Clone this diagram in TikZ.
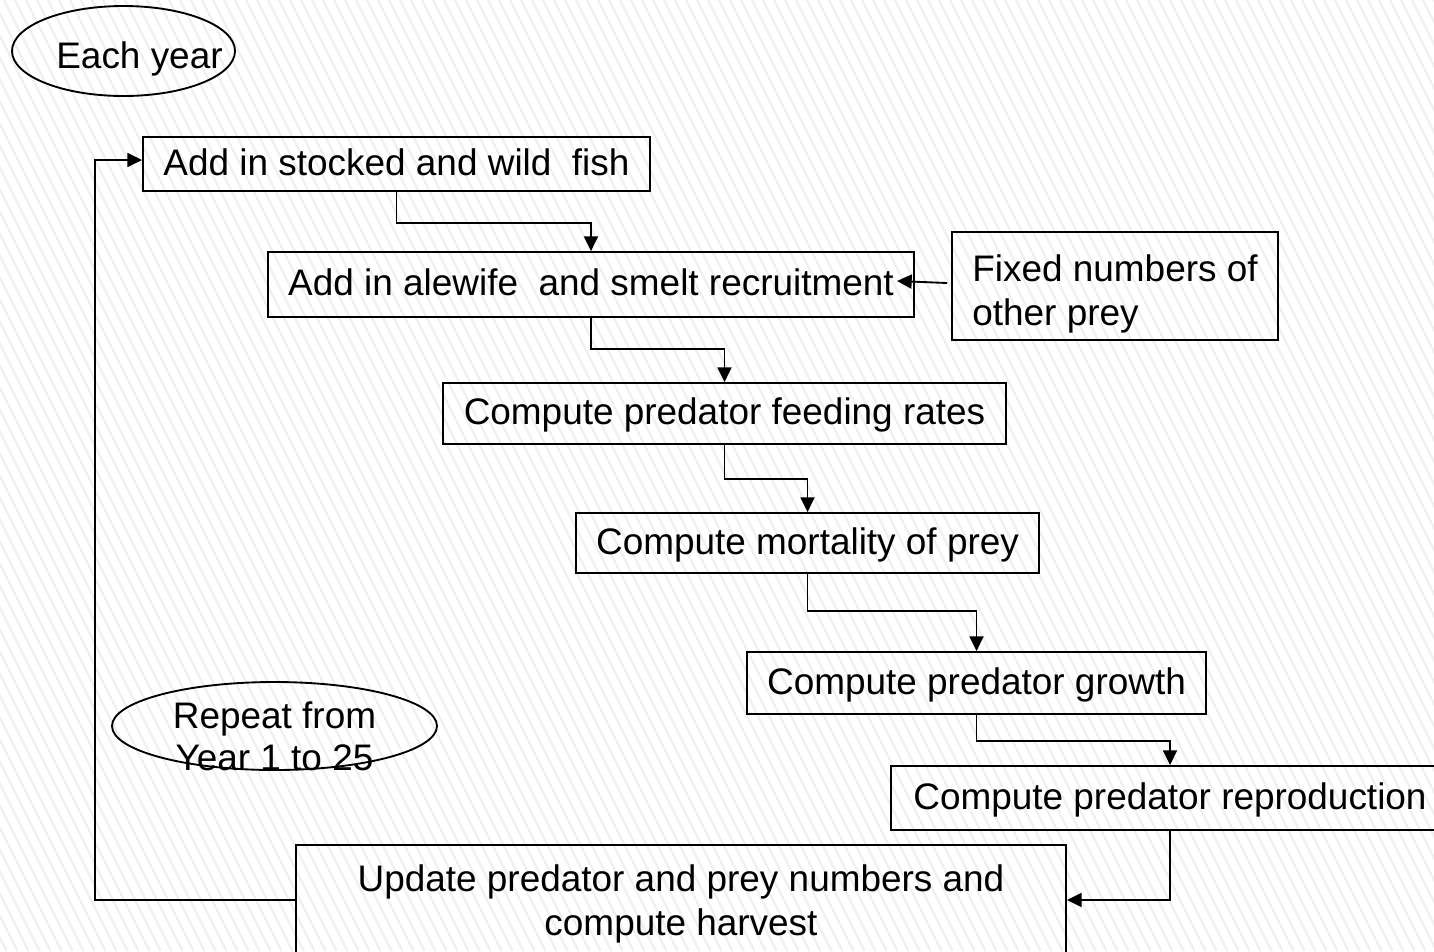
\documentclass[tikz,border=0pt]{standalone}
\usepackage{fontspec}
\setmainfont{Liberation Sans}
\usetikzlibrary{arrows.meta,shapes.geometric}

\tikzset{
  boxstyle/.style={draw, line width=1.4pt, inner sep=0pt, align=center,
    font=\fontsize{27.7}{32.8}\selectfont},
  oneline/.style={boxstyle, text height=24pt, text depth=7.5pt},
  ovalstyle/.style={draw, ellipse, line width=1.4pt, inner sep=0pt},
  labelstyle/.style={inner sep=0pt, align=center,
    font=\fontsize{27.7}{31.5}\selectfont},
  conn/.style={line width=1.4pt, -{Triangle[length=11pt,width=10.5pt]}},
  hatch/.style={line width=1.8pt, black!6}
}

\begin{document}
\begin{tikzpicture}[x=0.75pt, y=-0.75pt]
  % page and faint diagonal background stripes
  \fill[white] (0,0) rectangle (1434,951);
  \useasboundingbox (0,0) rectangle (1434,951);
  \begin{scope}
    \clip (0,0) rectangle (1434,951);
    \foreach \c in {-480,-469,...,1440}
      \draw[hatch] (\c,0) -- ++(475.5,951);
  \end{scope}

  \begin{scope}
    \clip (0,0) rectangle (1434,951);

    % ovals with their captions
    \node[ovalstyle, minimum width=167.25pt, minimum height=67.5pt] (year)
      at (123.5,51) {};
    \node[labelstyle] (yeartext) at (139.5,58.5) {Each year};
    \node[ovalstyle, minimum width=243.75pt, minimum height=66pt] (repeat)
      at (274.5,726) {};
    \node[labelstyle] (repeattext) at (274.5,736) {Repeat from\\Year 1 to 25};

    % steps of the yearly cycle
    \node[oneline, minimum width=380.25pt, minimum height=40.5pt] (stock)
      at (396.5,164) {Add in stocked and wild\ \ fish};
    \node[oneline, minimum width=484.5pt, minimum height=48.75pt] (recruit)
      at (591,284.5) {Add in alewife\ \ and smelt recruitment};
    \node[boxstyle, align=left, text height=66pt, text depth=7.5pt,
      minimum width=244.5pt, minimum height=81pt] (fixed)
      at (1115,286) {Fixed numbers of\\other prey};
    \node[oneline, minimum width=422.25pt, minimum height=45.75pt] (feed)
      at (724.5,413.5) {Compute predator feeding rates};
    \node[oneline, minimum width=347.25pt, minimum height=45pt] (mort)
      at (807.5,543) {Compute mortality of prey};
    \node[oneline, minimum width=344.25pt, minimum height=46.5pt] (growth)
      at (976.5,683) {Compute predator growth};
    \node[oneline, minimum width=418.5pt, minimum height=48pt] (repro)
      at (1170,798) {Compute predator reproduction};
    \node[boxstyle, minimum width=577.5pt, minimum height=88.5pt] (update)
      at (681,904) {Update predator and prey numbers and\\compute harvest};

    % connectors between the steps
    \draw[conn] (stock.south) -- ++(0,31) -| (recruit.north);
    \draw[conn] (recruit.south) -- ++(0,31) -| (feed.north);
    \draw[conn] (feed.south) -- ++(0,34) -| (mort.north);
    \draw[conn] (mort.south) -- ++(0,37) -| (growth.north);
    \draw[conn] (growth.south) -- ++(0,26) -| (repro.north);
    \draw[conn] (repro.south) |- ([yshift=3pt]update.east);
    \draw[conn] ([yshift=3pt]update.west) -- ++(-200,0) |- ([yshift=3pt]stock.west);

    % extra prey feeding into recruitment
    \coordinate (preytip) at (897,281);
    \draw[conn] ([shift={(-4,-3)}]fixed.west) -- (preytip);
  \end{scope}
\end{tikzpicture}
\end{document}
